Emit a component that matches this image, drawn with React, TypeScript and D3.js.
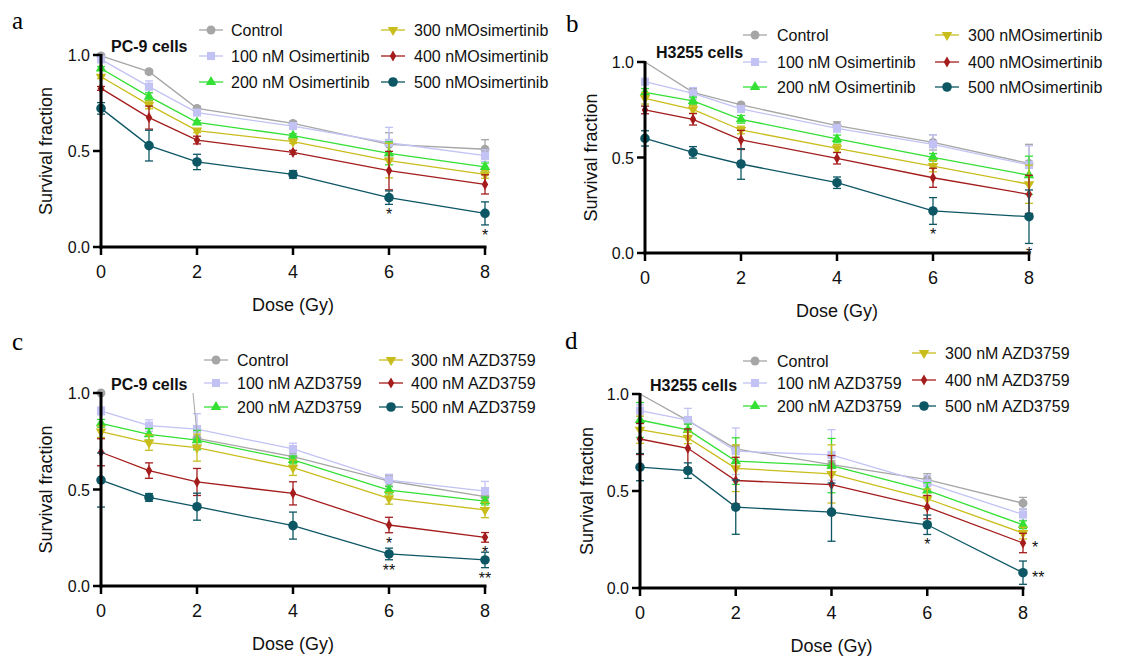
import React from 'react';
import * as d3 from 'd3';

// ---------- data ----------
const doses = [0, 1, 2, 4, 6, 8];
const xTicks = [0, 2, 4, 6, 8];
const yTicks = [0, 0.5, 1.0];

const osiLabels = ['Control', '100 nM Osimertinib', '200 nM Osimertinib', '300 nMOsimertinib', '400 nMOsimertinib', '500 nMOsimertinib'];
const azdLabels = ['Control', '100 nM AZD3759', '200 nM AZD3759', '300 nM AZD3759', '400 nM AZD3759', '500 nM AZD3759'];

// panel a: PC-9, Osimertinib
const aMeans = [
  [0.995, 0.913, 0.722, 0.644, 0.535, 0.509],
  [0.977, 0.835, 0.700, 0.630, 0.543, 0.476],
  [0.930, 0.783, 0.649, 0.580, 0.488, 0.417],
  [0.887, 0.740, 0.606, 0.549, 0.450, 0.378],
  [0.826, 0.674, 0.557, 0.493, 0.398, 0.326],
  [0.722, 0.528, 0.443, 0.378, 0.257, 0.175],
];
const aErrors = [
  [0.01, 0.01, 0.01, 0.01, 0.06, 0.05],
  [0.01, 0.03, 0.01, 0.01, 0.08, 0.03],
  [0.01, 0.02, 0.01, 0.01, 0.06, 0.02],
  [0.01, 0.02, 0.01, 0.01, 0.09, 0.02],
  [0.01, 0.06, 0.02, 0.01, 0.10, 0.05],
  [0.03, 0.08, 0.04, 0.02, 0.035, 0.06],
];
const aStars = [
  { s: 5, dose: 6, text: '*' },
  { s: 5, dose: 8, text: '*' },
];

// panel b: H3255, Osimertinib
const bMeans = [
  [1.0, 0.841, 0.775, 0.667, 0.579, 0.469],
  [0.897, 0.836, 0.754, 0.653, 0.569, 0.461],
  [0.841, 0.796, 0.700, 0.597, 0.501, 0.407],
  [0.810, 0.752, 0.644, 0.548, 0.455, 0.360],
  [0.749, 0.700, 0.592, 0.496, 0.394, 0.307],
  [0.600, 0.527, 0.466, 0.368, 0.220, 0.190],
];
const bErrors = [
  [0.0, 0.02, 0.01, 0.02, 0.04, 0.10],
  [0.01, 0.03, 0.01, 0.02, 0.05, 0.10],
  [0.02, 0.02, 0.02, 0.02, 0.02, 0.10],
  [0.03, 0.02, 0.02, 0.02, 0.03, 0.10],
  [0.02, 0.03, 0.05, 0.03, 0.05, 0.10],
  [0.04, 0.03, 0.08, 0.03, 0.07, 0.14],
];
const bStars = [
  { s: 5, dose: 6, text: '*' },
  { s: 5, dose: 8, text: '*' },
];

// panel c: PC-9, AZD3759
const cMeans = [
  [1.0, null, 0.765, 0.670, 0.544, 0.463],
  [0.907, 0.831, 0.813, 0.710, 0.549, 0.492],
  [0.843, 0.786, 0.756, 0.653, 0.497, 0.440],
  [0.800, 0.743, 0.717, 0.613, 0.454, 0.394],
  [0.693, 0.598, 0.539, 0.480, 0.316, 0.252],
  [0.549, 0.459, 0.411, 0.313, 0.166, 0.135],
];
const cErrors = [
  [0.0, 0.0, 0.05, 0.02, 0.03, 0.03],
  [0.02, 0.03, 0.08, 0.03, 0.03, 0.05],
  [0.02, 0.03, 0.05, 0.02, 0.02, 0.02],
  [0.03, 0.04, 0.07, 0.04, 0.03, 0.04],
  [0.07, 0.04, 0.07, 0.06, 0.04, 0.025],
  [0.14, 0.02, 0.07, 0.07, 0.03, 0.04],
];
const cStars = [
  { s: 4, dose: 6, text: '*' },
  { s: 4, dose: 8, text: '*' },
  { s: 5, dose: 6, text: '**' },
  { s: 5, dose: 8, text: '**' },
];

// panel d: H3255, AZD3759
const dMeans = [
  [1.0, 0.863, 0.717, 0.636, 0.559, 0.437],
  [0.914, 0.866, 0.705, 0.686, 0.540, 0.379],
  [0.866, 0.815, 0.654, 0.631, 0.503, 0.326],
  [0.816, 0.774, 0.617, 0.588, 0.460, 0.283],
  [0.768, 0.720, 0.554, 0.533, 0.417, 0.232],
  [0.623, 0.605, 0.417, 0.391, 0.326, 0.079],
];
const dErrors = [
  [0.0, 0.02, 0.02, 0.02, 0.03, 0.03],
  [0.03, 0.06, 0.12, 0.13, 0.04, 0.03],
  [0.09, 0.03, 0.12, 0.14, 0.04, 0.02],
  [0.07, 0.03, 0.12, 0.15, 0.05, 0.03],
  [0.08, 0.10, 0.12, 0.15, 0.06, 0.05],
  [0.07, 0.04, 0.14, 0.15, 0.05, 0.06],
];
const dStars = [
  { s: 5, dose: 6, text: '*' },
  { s: 4, dose: 8, text: '*', right: true },
  { s: 5, dose: 8, text: '**', right: true },
];

// ---------- styles ----------
const colors = ['#a6a6a6', '#c2c2f4', '#33e033', '#c9bd1c', '#a41c1c', '#0d5664'];
const symbolTypes = [d3.symbolCircle, d3.symbolSquare, d3.symbolTriangle, d3.symbolTriangle, d3.symbolDiamond, d3.symbolCircle];
const symbolSizes = [62, 66, 48, 48, 36, 72];
const symbolRot = [0, 0, 0, 180, 0, 0];
const FONT = 'Arial, "Liberation Sans", Helvetica, sans-serif';

type Cfg = {
  letter: string; letterX: number; letterY: number;
  xl: number; xr: number; y0: number; y1: number;
  cell: string; cellX: number; cellY: number;
  labels: string[]; means: (number | null)[][]; errors: number[][];
  stars: { s: number; dose: number; text: string; right?: boolean }[];
  legMarker: number[]; legText: number[]; legRows: number[][];
  yLabX: number; hideFirstControl?: boolean; leader?: boolean;
};

const panels: Cfg[] = [
  {
    letter: 'a', letterX: 12, letterY: 29, xl: 101, xr: 485, y0: 247, y1: 55,
    cell: 'PC-9 cells', cellX: 111, cellY: 52, labels: osiLabels, means: aMeans, errors: aErrors, stars: aStars,
    legMarker: [211, 393], legText: [231, 414], legRows: [[30, 56, 82], [30, 56, 82]], yLabX: 46,
  },
  {
    letter: 'b', letterX: 566, letterY: 32, xl: 645, xr: 1029, y0: 253, y1: 62,
    cell: 'H3255 cells', cellX: 656, cellY: 58, labels: osiLabels, means: bMeans, errors: bErrors, stars: bStars,
    legMarker: [755, 947], legText: [777, 968], legRows: [[35, 62, 87], [35, 62, 87]], yLabX: 591, hideFirstControl: true,
  },
  {
    letter: 'c', letterX: 12, letterY: 350, xl: 101, xr: 485, y0: 586, y1: 393,
    cell: 'PC-9 cells', cellX: 111, cellY: 390, labels: azdLabels, means: cMeans, errors: cErrors, stars: cStars,
    legMarker: [216, 391], legText: [237, 411], legRows: [[360, 383, 407], [360, 383, 407]], yLabX: 46, leader: true,
  },
  {
    letter: 'd', letterX: 565, letterY: 349, xl: 640, xr: 1023, y0: 588, y1: 394,
    cell: 'H3255 cells', cellX: 650, cellY: 391, labels: azdLabels, means: dMeans, errors: dErrors, stars: dStars,
    legMarker: [755, 924], legText: [777, 945], legRows: [[361, 383, 406], [353, 380, 406]], yLabX: 587, hideFirstControl: true,
  },
];

function Marker({ i, x, y }: { i: number; x: number; y: number }) {
  const path = d3.symbol().type(symbolTypes[i]).size(symbolSizes[i])() || '';
  return <path d={path} transform={`translate(${x},${y}) rotate(${symbolRot[i]})`} fill={colors[i]} stroke="none" />;
}

function Panel({ cfg }: { cfg: Cfg }) {
  const x = d3.scaleLinear().domain([0, 8]).range([cfg.xl, cfg.xr]);
  const y = d3.scaleLinear().domain([0, 1]).range([cfg.y0, cfg.y1]);
  const line = d3
    .line<[number, number | null]>()
    .defined((d) => d[1] != null)
    .x((d) => x(d[0]))
    .y((d) => y(d[1] as number));

  const cap = 4;
  return (
    <g fontFamily={FONT}>
      <text x={cfg.letterX} y={cfg.letterY} fontFamily='"Liberation Serif", "Times New Roman", serif' fontSize={25}>{cfg.letter}</text>

      {/* series */}
      {cfg.means.map((m, i) => {
        const pts = doses.map((d, k) => [d, m[k]] as [number, number | null]);
        return (
          <g key={i}>
            <path d={line(pts) || ''} fill="none" stroke={colors[i]} strokeWidth={1.3} />
            {pts.map(([d, v], k) => {
              if (v == null) return null;
              const e = cfg.errors[i][k];
              if (!e) return null;
              const cx = x(d);
              return (
                <g key={k} stroke={colors[i]} strokeWidth={1.3}>
                  <line x1={cx} x2={cx} y1={y(v - e)} y2={y(v + e)} />
                  <line x1={cx - cap} x2={cx + cap} y1={y(v - e)} y2={y(v - e)} />
                  <line x1={cx - cap} x2={cx + cap} y1={y(v + e)} y2={y(v + e)} />
                </g>
              );
            })}
            {pts.map(([d, v], k) => {
              if (v == null) return null;
              if (i === 0 && k === 0 && cfg.hideFirstControl) return null;
              return <Marker key={k} i={i} x={x(d)} y={y(v)} />;
            })}
          </g>
        );
      })}

      {/* axes */}
      <line x1={cfg.xl} x2={cfg.xl} y1={y(1) - 1} y2={cfg.y0 + 1.5} stroke="#000" strokeWidth={3} />
      <line x1={cfg.xl - 1.5} x2={cfg.xr + 1.5} y1={cfg.y0} y2={cfg.y0} stroke="#000" strokeWidth={3} />
      {yTicks.map((t) => (
        <g key={t}>
          <line x1={cfg.xl - 8} x2={cfg.xl} y1={y(t)} y2={y(t)} stroke="#000" strokeWidth={2.5} />
          <text x={cfg.xl - 11} y={y(t) + 6} textAnchor="end" fontSize={16} fill="#111">{d3.format('.1f')(t)}</text>
        </g>
      ))}
      {xTicks.map((t) => (
        <g key={t}>
          <line x1={x(t)} x2={x(t)} y1={cfg.y0} y2={cfg.y0 + 8} stroke="#000" strokeWidth={2.5} />
          <text x={x(t)} y={cfg.y0 + 31} textAnchor="middle" fontSize={18} fill="#111">{t}</text>
        </g>
      ))}
      <text x={(cfg.xl + cfg.xr) / 2} y={cfg.y0 + 64} textAnchor="middle" fontSize={18} fill="#111">Dose (Gy)</text>
      <text transform={`translate(${cfg.yLabX},${(cfg.y0 + cfg.y1) / 2}) rotate(-90)`} textAnchor="middle" dominantBaseline="central" fontSize={18} fill="#111">Survival fraction</text>

      {/* stars */}
      {cfg.stars.map((st, j) => {
        const k = doses.indexOf(st.dose);
        const v = cfg.means[st.s][k] as number;
        const e = cfg.errors[st.s][k];
        if (st.right) {
          return <text key={j} x={x(st.dose) + 9} y={y(v) + 10} fontSize={16} fill="#111">{st.text}</text>;
        }
        return <text key={j} x={x(st.dose)} y={y(v - e) + 16} textAnchor="middle" fontSize={16} fill="#111">{st.text}</text>;
      })}

      {/* cell label */}
      <text x={cfg.cellX} y={cfg.cellY} fontSize={16} fontWeight="bold" fill="#111">{cfg.cell}</text>
      {cfg.leader && (
        <line x1={x(2) - 4} y1={y(1)} x2={x(2)} y2={y(cfg.means[0][2] as number) - 5} stroke="#a6a6a6" strokeWidth={1} />
      )}

      {/* legend */}
      {cfg.labels.map((lab, i) => {
        const col = i < 3 ? 0 : 1;
        const row = i % 3;
        const mx = cfg.legMarker[col];
        const ly = cfg.legRows[col][row];
        return (
          <g key={lab}>
            <line x1={mx - 12} x2={mx + 12} y1={ly} y2={ly} stroke={colors[i]} strokeWidth={1.3} />
            <Marker i={i} x={mx} y={ly} />
            <text x={cfg.legText[col]} y={ly + 6} fontSize={16} fill="#111">{lab}</text>
          </g>
        );
      })}
    </g>
  );
}

export default function App() {
  return (
    <svg width={1128} height={672} style={{ position: 'absolute', left: 0, top: 0, background: '#fff' }}>
      <rect width={1128} height={672} fill="#fff" />
      {panels.map((p) => (
        <Panel key={p.letter} cfg={p} />
      ))}
    </svg>
  );
}
